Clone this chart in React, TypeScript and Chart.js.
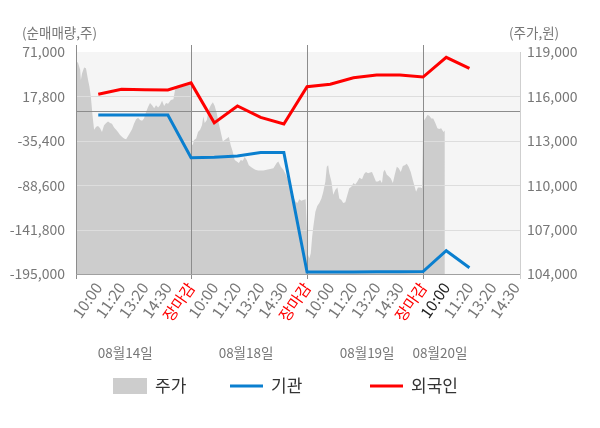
import React, { useEffect, useRef } from "react";
import { Chart, registerables } from "chart.js";

Chart.register(...registerables);

const FONT = '"Noto Sans CJK KR", "Noto Sans", sans-serif';
const RED = "#ff0000";
const BLUE = "#0a7fcf";
const GRAY_AREA = "#cdcdcd";
const PLOT_BG = "#f5f5f5";
const GRID = "#dddddd";
const DARK_LINE = "#8c8c8c";
const TICK_TEXT = "#777777";

// x axis: one slot per label, 5 slots per trading day
const timeLabels = [
  "10:00", "11:20", "13:20", "14:30", "장마감",
  "10:00", "11:20", "13:20", "14:30", "장마감",
  "10:00", "11:20", "13:20", "14:30", "장마감",
  "10:00", "11:20", "13:20", "14:30",
];
const dateLabels = ["08월14일", "08월18일", "08월19일", "08월20일"];
const datePositions = [2.16, 7.37, 12.59, 15.73];
const dayBreaks = [5, 10, 15];

const volumeTicks = [71000, 17800, -35400, -88600, -141800, -195000];
const priceTicks = [104000, 107000, 110000, 113000, 116000, 119000];

// cumulative net buying (주), one point per label
const linePositions = [1, 2, 3, 4, 5, 6, 7, 8, 9, 10, 11, 12, 13, 14, 15, 16, 17];
const institution = [
  -4500, -4500, -4500, -4500, -55600,
  -55200, -53600, -49500, -49500, -192600,
  -192600, -192500, -192300, -192200, -192000,
  -167100, -187450,
];
const foreign = [
  20300, 26300, 25900, 25500, 34000,
  -13900, 6300, -7300, -15300, 29500,
  32300, 40200, 43400, 43400, 41000,
  64600, 51400,
];

// intraday price (원)
const priceX = [
  0.07, 0.13, 0.22, 0.25, 0.3, 0.39, 0.47, 0.56, 0.62, 0.68, 0.75, 0.82, 0.91, 0.99,
  1.08, 1.16, 1.25, 1.34, 1.42, 1.51, 1.59, 1.68, 1.77, 1.85, 1.94, 2.03, 2.11, 2.2,
  2.28, 2.37, 2.46, 2.54, 2.63, 2.72, 2.8, 2.89, 2.97, 3.06, 3.15, 3.23, 3.32, 3.41,
  3.49, 3.58, 3.66, 3.75, 3.84, 3.92, 4.01, 4.13, 4.24, 4.31, 4.45, 4.6, 4.74, 4.88, 4.98,
  5.01, 5.07, 5.13, 5.22, 5.3, 5.39, 5.47, 5.53, 5.59, 5.68, 5.76, 5.85, 5.94, 6.02,
  6.11, 6.19, 6.28, 6.37, 6.45, 6.54, 6.63, 6.71, 6.8, 6.88, 6.97, 7.06, 7.14, 7.23,
  7.31, 7.4, 7.49, 7.57, 7.66, 7.77, 7.89, 8.0, 8.12, 8.26, 8.41, 8.55, 8.69, 8.76,
  8.87, 8.98, 9.09, 9.21, 9.32, 9.41, 9.5, 9.58, 9.67, 9.75, 9.84, 9.94,
  9.99, 10.04, 10.1, 10.16, 10.22, 10.27, 10.36, 10.44, 10.53, 10.62, 10.7, 10.79, 10.85,
  10.91, 10.96, 11.05, 11.13, 11.22, 11.31, 11.39, 11.48, 11.56, 11.65, 11.74, 11.82,
  11.91, 12.0, 12.08, 12.17, 12.26, 12.37, 12.46, 12.54, 12.63, 12.72, 12.8, 12.89,
  12.97, 13.06, 13.15, 13.23, 13.29, 13.35, 13.44, 13.52, 13.61, 13.7, 13.78, 13.87,
  13.95, 14.04, 14.13, 14.21, 14.3, 14.38, 14.47, 14.56, 14.64, 14.7, 14.78, 14.9, 14.96,
  15.01, 15.1, 15.19, 15.27, 15.36, 15.44, 15.53, 15.62, 15.7, 15.78, 15.88, 15.94,
];
const priceY = [
  118350, 118250, 117800, 117100, 117550, 117950, 117900, 117100, 116650, 116000, 114750, 113750, 113950, 114000,
  113850, 113600, 114050, 114200, 114300, 114200, 114150, 113900, 113750, 113600, 113400, 113250, 113150, 113100,
  113300, 113550, 113800, 114150, 114450, 114550, 114400, 114350, 114500, 114950, 115300, 115550, 115400, 115200,
  115400, 115250, 115400, 115700, 115350, 115550, 115500, 115750, 115800, 116450, 116650, 116700, 116750, 116850, 116900,
  112850, 112700, 113050, 113150, 113600, 113750, 114050, 114650, 114200, 114400, 115100, 115400, 115600, 115350,
  114850, 114200, 113600, 112950, 113050, 113150, 113250, 112700, 112250, 111700, 111600, 111500, 111700, 111650,
  111900, 111700, 111350, 111250, 111150, 111050, 111000, 111000, 111000, 111050, 111100, 111150, 111500, 111600,
  111250, 111050, 110700, 110250, 109700, 109200, 108900, 108800, 109050, 108950, 109000, 109050,
  107150, 105300, 105050, 105400, 106500, 107200, 108200, 108600, 108800, 109100, 109550, 110250, 111250,
  111350, 110800, 110250, 109350, 109700, 109850, 109100, 109000, 108800, 108850, 109350, 109800,
  109900, 110150, 110050, 110250, 110500, 110400, 110750, 110900, 110800, 110850, 110900, 110550,
  110250, 110250, 110350, 110150, 110900, 111050, 110700, 110600, 110450, 110150, 110700, 111250,
  111150, 110900, 111300, 111350, 111450, 111250, 110900, 110350, 109900, 109550, 109850, 109850, 109800,
  114300, 114500, 114750, 114700, 114500, 114500, 114200, 113850, 113800, 113850, 113600, 113700,
];

function strokeLine(ctx: CanvasRenderingContext2D, x1: number, y1: number, x2: number, y2: number) {
  ctx.beginPath();
  ctx.moveTo(x1, y1);
  ctx.lineTo(x2, y2);
  ctx.stroke();
}

const framePlugin = {
  id: "frame",
  beforeDraw(chart: any) {
    const { ctx, chartArea: a } = chart;
    ctx.save();
    ctx.fillStyle = PLOT_BG;
    ctx.fillRect(a.left, a.top, a.right - a.left, a.bottom - a.top);
    ctx.restore();
  },
  // grid goes over the price area but under the two net-buying lines
  afterDatasetDraw(chart: any, args: any) {
    if (chart.data.datasets[args.index].label !== "주가") return;
    const { ctx, chartArea: a, scales } = chart;
    ctx.save();
    ctx.lineWidth = 1;
    ctx.strokeStyle = GRID;
    volumeTicks.slice(1, -1).forEach((v) => {
      const y = Math.round(scales.y.getPixelForValue(v)) + 0.5;
      strokeLine(ctx, a.left, y, a.right, y);
    });
    ctx.strokeStyle = DARK_LINE;
    const y0 = Math.round(scales.y.getPixelForValue(0)) + 0.5;
    strokeLine(ctx, a.left, y0, a.right, y0);
    const left = Math.round(a.left) + 0.5;
    strokeLine(ctx, left, a.top - 7, left, a.bottom + 5);
    dayBreaks.forEach((d) => {
      const x = Math.round(scales.x.getPixelForValue(d)) + 0.5;
      strokeLine(ctx, x, a.top - 7, x, a.bottom + 5);
    });
    ctx.strokeStyle = "#a0a0a0";
    const b = Math.round(a.bottom) + 0.5;
    strokeLine(ctx, a.left, b, a.right, b);
    ctx.strokeStyle = "#cfcfcf";
    const r = Math.round(a.right) + 0.5;
    strokeLine(ctx, r, a.top, r, a.bottom + 5);
    ctx.restore();
  },
  afterDraw(chart: any) {
    const { ctx, scales } = chart;
    ctx.save();
    ctx.textBaseline = "middle";
    ctx.fillStyle = TICK_TEXT;
    ctx.font = `13.5px ${FONT}`;
    ctx.textAlign = "left";
    ctx.fillText("(순매매량,주)", 22, 33);
    ctx.fillText("(주가,원)", 509, 33);

    ctx.textAlign = "center";
    dateLabels.forEach((t, i) => {
      ctx.fillText(t, scales.x.getPixelForValue(datePositions[i]), 353);
    });

    const ds = chart.data.datasets;
    const ly = 386;
    ctx.font = `17px ${FONT}`;
    ctx.textAlign = "left";
    ctx.fillStyle = ds[0].backgroundColor;
    ctx.fillRect(113, ly - 8, 34, 16);
    ctx.fillStyle = "#333333";
    ctx.fillText(ds[0].label, 155, ly);
    ctx.lineWidth = 3;
    ctx.strokeStyle = ds[1].borderColor;
    strokeLine(ctx, 230, ly, 263, ly);
    ctx.fillText(ds[1].label, 271, ly);
    ctx.strokeStyle = ds[2].borderColor;
    strokeLine(ctx, 370, ly, 403, ly);
    ctx.fillText(ds[2].label, 411, ly);
    ctx.restore();
  },
};

export default function App() {
  const canvasRef = useRef<HTMLCanvasElement | null>(null);

  useEffect(() => {
    document.body.style.margin = "0";
    const canvas = canvasRef.current;
    if (!canvas) return;

    const chart = new Chart(canvas, {
      type: "line",
      data: {
        datasets: [
          {
            label: "주가",
            data: priceX.map((x, i) => ({ x, y: priceY[i] })),
            yAxisID: "y1",
            fill: "start",
            backgroundColor: GRAY_AREA,
            borderWidth: 0,
            pointRadius: 0,
            tension: 0,
            order: 3,
          },
          {
            label: "기관",
            data: linePositions.map((x, i) => ({ x, y: institution[i] })),
            yAxisID: "y",
            borderColor: BLUE,
            borderWidth: 3,
            pointRadius: 0,
            fill: false,
            order: 2,
          },
          {
            label: "외국인",
            data: linePositions.map((x, i) => ({ x, y: foreign[i] })),
            yAxisID: "y",
            borderColor: RED,
            borderWidth: 3,
            pointRadius: 0,
            fill: false,
            order: 1,
          },
        ],
      },
      options: {
        animation: false,
        responsive: false,
        layout: { padding: { top: 52, left: 0, right: 0, bottom: 0 } },
        plugins: { legend: { display: false }, tooltip: { enabled: false } },
        scales: {
          x: {
            type: "linear",
            min: 0.04,
            max: 19.18,
            afterBuildTicks: (s: any) => {
              s.ticks = timeLabels.map((_, i) => ({ value: i + 1 }));
            },
            afterFit: (s: any) => {
              s.height = 154;
            },
            grid: { display: false, drawTicks: false },
            border: { display: false },
            ticks: {
              autoSkip: false,
              minRotation: 55,
              maxRotation: 55,
              padding: 5,
              font: { family: FONT, size: 15.5 },
              color: (c: any) =>
                timeLabels[c.index] === "장마감" ? RED : c.index === 15 ? "#222222" : TICK_TEXT,
              callback: (_v: any, i: number) => timeLabels[i],
            },
          },
          y: {
            position: "left",
            min: -195000,
            max: 71000,
            afterBuildTicks: (s: any) => {
              s.ticks = volumeTicks.map((v) => ({ value: v }));
            },
            afterFit: (s: any) => {
              s.width = 76;
            },
            grid: { display: false, drawTicks: false },
            border: { display: false },
            ticks: {
              padding: 11,
              color: TICK_TEXT,
              font: { family: FONT, size: 14 },
              callback: (v: any) => Number(v).toLocaleString("en-US"),
            },
          },
          y1: {
            position: "right",
            min: 104000,
            max: 119000,
            afterBuildTicks: (s: any) => {
              s.ticks = priceTicks.map((v) => ({ value: v }));
            },
            afterFit: (s: any) => {
              s.width = 80;
            },
            grid: { display: false, drawTicks: false },
            border: { display: false },
            ticks: {
              padding: 7,
              color: TICK_TEXT,
              font: { family: FONT, size: 14 },
              callback: (v: any) => Number(v).toLocaleString("en-US"),
            },
          },
        },
      },
      plugins: [framePlugin],
    });

    return () => chart.destroy();
  }, []);

  return (
    <div style={{ width: 600, height: 428, background: "#ffffff" }}>
      <canvas ref={canvasRef} width={600} height={428} style={{ display: "block" }} />
    </div>
  );
}
